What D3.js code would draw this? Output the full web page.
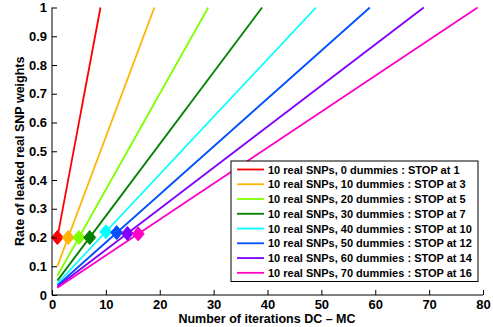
<!DOCTYPE html>
<html><head><meta charset="utf-8">
<script src="https://cdn.jsdelivr.net/npm/d3@7"></script>
<style>body{margin:0;background:#fff}svg{display:block}text{font-family:"Liberation Sans",Arial,Helvetica,sans-serif;font-weight:bold;fill:#000}</style>
</head><body>
<script>
const dummies = [0, 10, 20, 30, 40, 50, 60, 70];
const stopAt = [1, 3, 5, 7, 10, 12, 14, 16];
const startIter = [1, 1, 1, 1, 1, 1, 1, 1];
const startRate = [0.2, 0.1, 0.067, 0.05, 0.04, 0.033, 0.029, 0.025];
const endIter = [9, 19, 29, 39, 49, 59, 69, 79];
const endRate = [1, 1, 1, 1, 1, 1, 1, 1];
const stopRate = [0.2, 0.2, 0.2, 0.2, 0.22, 0.217, 0.214, 0.2125];
const colors = ["#ff0000", "#ffb400", "#80ff00", "#008000", "#00ffff", "#0050ff", "#8000ff", "#ff00c8"];
const xTicks = [0, 10, 20, 30, 40, 50, 60, 70, 80];
const yTicks = [0, 0.1, 0.2, 0.3, 0.4, 0.5, 0.6, 0.7, 0.8, 0.9, 1];
const xLabel = "Number of iterations DC \u2013 MC";
const yLabel = "Rate of leaked real SNP weights";

const W = 493, H = 327;
const svg = d3.select("body").append("svg").attr("width", W).attr("height", H);
const x = d3.scaleLinear().domain([0, 80]).range([52, 483]);
const y = d3.scaleLinear().domain([0, 1]).range([295, 7.5]);

const line = d3.line().x(d => x(d[0])).y(d => y(d[1]));
dummies.forEach((n, i) => {
  const pts = [[startIter[i], startRate[i]], [endIter[i], endRate[i]]];
  svg.append("path").attr("d", line(pts)).attr("fill", "none")
    .attr("stroke", colors[i]).attr("stroke-width", 1.8);
});
const rx = 6, ry = 7;
dummies.forEach((n, i) => {
  const cx = x(stopAt[i]), cy = y(stopRate[i]);
  svg.append("path").attr("d", `M${cx},${cy - ry}L${cx + rx},${cy}L${cx},${cy + ry}L${cx - rx},${cy}Z`)
    .attr("fill", colors[i]).attr("stroke", colors[i]).attr("stroke-width", 1);
});

const xa = svg.append("g").attr("transform", `translate(0,${y(0)})`)
  .call(d3.axisBottom(x).tickValues(xTicks).tickSizeInner(-5).tickSizeOuter(0).tickPadding(5).tickFormat(d3.format("d")));
const ya = svg.append("g").attr("transform", `translate(${x(0)},0)`)
  .call(d3.axisLeft(y).tickValues(yTicks).tickSizeInner(-5).tickSizeOuter(0).tickPadding(5).tickFormat(d => d === 0 || d === 1 ? String(d) : d3.format(".1f")(d)));
[xa, ya].forEach(g => {
  g.selectAll("path,line").attr("stroke", "#000").attr("stroke-width", 1);
  g.selectAll("text").attr("font-size", 13).attr("font-family", null).attr("font-weight", "bold").attr("fill", "#000");
});
xa.select(".domain").attr("d", `M${x(0)},0H${x(80)}`);
ya.select(".domain").attr("d", `M0,${y(0)}V${y(1)}`);

svg.append("text").attr("x", 267).attr("y", 323).attr("text-anchor", "middle")
  .attr("font-size", 12.5).text(xLabel);
svg.append("text").attr("transform", `translate(24,${(y(0) + y(1)) / 2}) rotate(-90)`)
  .attr("text-anchor", "middle").attr("font-size", 12.5).text(yLabel);

const lg = svg.append("g");
lg.append("rect").attr("x", 231).attr("y", 161).attr("width", 247).attr("height", 120.5)
  .attr("fill", "#fff").attr("stroke", "#000").attr("stroke-width", 1);
dummies.forEach((n, i) => {
  const cy = 169.5 + i * 14.76;
  lg.append("line").attr("x1", 237).attr("x2", 264).attr("y1", cy).attr("y2", cy)
    .attr("stroke", colors[i]).attr("stroke-width", 1.8);
  lg.append("text").attr("x", 268).attr("y", cy + 4).attr("font-size", 11)
    .text(`10 real SNPs, ${n} dummies : STOP at ${stopAt[i]}`);
});
</script>
</body></html>
